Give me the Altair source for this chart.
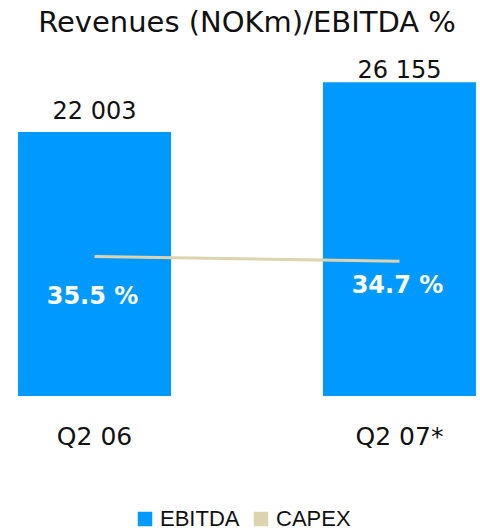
import altair as alt
import pandas as pd

quarters = ["Q2 06", "Q2 07*"]
revenues = [22003, 26155]
ebitda_pct = [35.5, 34.7]
series = ["EBITDA", "CAPEX"]
colors = ["#0099FF", "#DCD4AE"]

df = pd.DataFrame({
    "quarter": quarters,
    "revenue": revenues,
    "pct": ebitda_pct,
    "series": ["EBITDA"] * len(quarters),
})
df["rev_label"] = [f"{v:,}".replace(",", " ") for v in revenues]
df["pct_label"] = [f"{v:.1f} %" for v in ebitda_pct]

FONT = "DejaVu Sans"

x = alt.X("quarter:N", sort=quarters, title=None,
          scale=alt.Scale(paddingInner=0.498, paddingOuter=0),
          axis=alt.Axis(domain=False, ticks=False, grid=False, labelAngle=0, labelFontSize=25,
                        labelFont=FONT, labelColor="#111111", labelPadding=28))

y_bar = alt.Y("revenue:Q", scale=alt.Scale(domain=[0, 30000], nice=False, zero=True),
              axis=None, title=None)

bars = alt.Chart(df).mark_bar(size=153).encode(
    x=x,
    y=y_bar,
    color=alt.Color("series:N", title=None,
                    scale=alt.Scale(domain=series, range=colors),
                    legend=alt.Legend(orient="none", legendX=116, legendY=472,
                                      direction="horizontal", symbolType="square",
                                      symbolSize=210, symbolStrokeWidth=0,
                                      labelFont="Liberation Sans", labelFontSize=22,
                                      labelColor="#111111", columnPadding=10,
                                      labelOffset=4, padding=0)),
)

xq = alt.X("quarter:N", sort=quarters)

rev1 = alt.Chart(df).transform_filter(alt.datum.quarter == quarters[0]).mark_text(
    baseline="alphabetic", dy=-13, fontSize=24, font=FONT, color="#111111").encode(
    x=xq, y=alt.Y("revenue:Q"), text="rev_label:N")
rev2 = alt.Chart(df).transform_filter(alt.datum.quarter == quarters[1]).mark_text(
    baseline="alphabetic", dy=-4, fontSize=24, font=FONT, color="#111111").encode(
    x=xq, y=alt.Y("revenue:Q"), text="rev_label:N")

y_line = alt.Y("pct:Q", scale=alt.Scale(domain=[12.25, 72.25], nice=False, zero=False),
               axis=None, title=None)

line = alt.Chart(df).mark_line(color="#DCD4AE", strokeWidth=3).encode(
    x=xq,
    y=y_line,
)

pct1 = alt.Chart(df).transform_filter(alt.datum.quarter == quarters[0]).mark_text(
    dx=-2, dy=40, fontSize=24, fontWeight="bold", font=FONT, color="white").encode(
    x=xq, y=y_line, text="pct_label:N")
pct2 = alt.Chart(df).transform_filter(alt.datum.quarter == quarters[1]).mark_text(
    dx=-2, dy=25, fontSize=24, fontWeight="bold", font=FONT, color="white").encode(
    x=xq, y=y_line, text="pct_label:N")

bar_layer = alt.layer(bars, rev1, rev2)
line_layer = alt.layer(line, pct1, pct2)

chart = alt.layer(bar_layer, line_layer).resolve_scale(y="independent").properties(
    width=458, height=360,
    background="white",
    title=alt.TitleParams("Revenues (NOKm)/EBITDA %", fontSize=29, font=FONT,
                          fontWeight="normal", color="#111111", anchor="middle", offset=-2),
    autosize=alt.AutoSizeParams(type="none"),
    padding={"left": 18, "top": 36, "right": 4, "bottom": 134},
).configure_view(stroke=None, strokeWidth=0)

chart.save("out.html", embed_options={"renderer": "svg", "actions": False})
